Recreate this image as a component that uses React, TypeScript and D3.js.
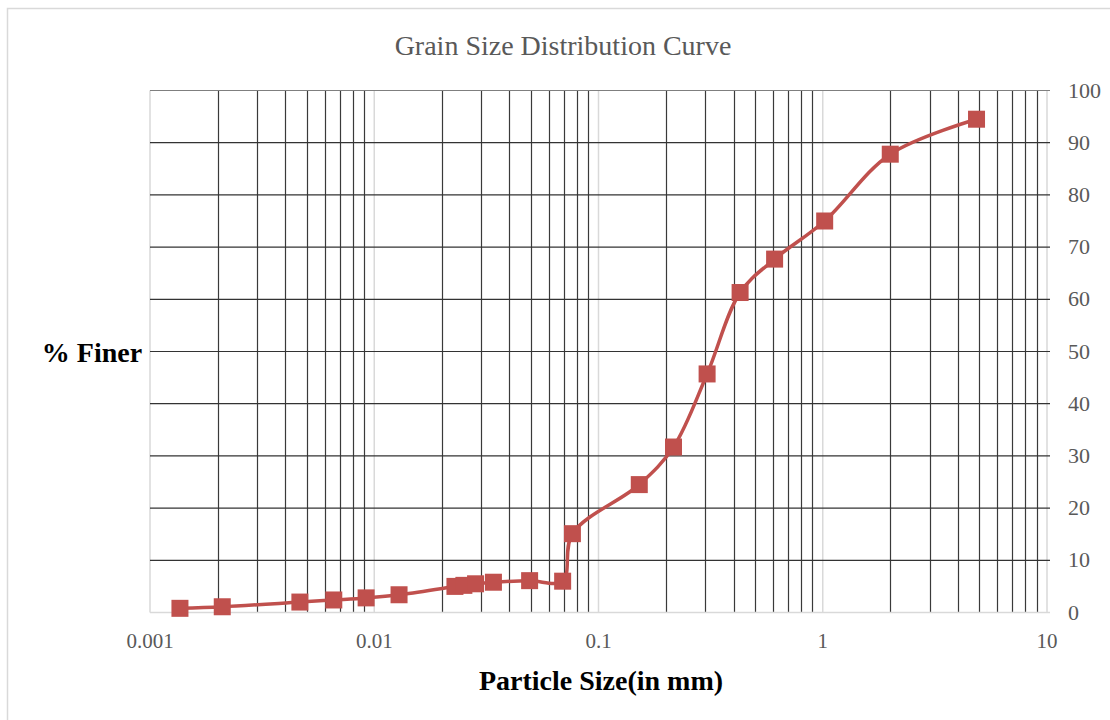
import React, { useEffect, useRef } from 'react';
import * as d3 from 'd3';

// sieve + hydrometer results
const sizes = [0.00136, 0.0021, 0.00466, 0.0066, 0.0092, 0.0129, 0.0229, 0.0251, 0.0283, 0.034, 0.0493, 0.0692, 0.0765, 0.152, 0.216, 0.305, 0.428, 0.61, 1.02, 2.0, 4.85];
const finer = [0.8, 1.1, 2.0, 2.4, 2.8, 3.4, 5.0, 5.2, 5.5, 5.8, 6.1, 6.0, 15.1, 24.5, 31.7, 45.7, 61.3, 67.7, 75.0, 87.8, 94.5];
const xTicks = [0.001, 0.01, 0.1, 1, 10];
const yTicks = [0, 10, 20, 30, 40, 50, 60, 70, 80, 90, 100];
const xTickLabels = ['0.001', '0.01', '0.1', '1', '10'];

const App = () => {
  const ref = useRef<SVGSVGElement>(null);

  useEffect(() => {
    const svg = d3.select(ref.current);
    svg.selectAll('*').remove();

    const x = d3.scaleLog().domain([0.001, 10]).range([150, 1047]);
    const y = d3.scaleLinear().domain([0, 100]).range([612.5, 90.5]);

    svg.append('rect').attr('width', 1110).attr('height', 720).attr('fill', '#fff');
    svg.append('rect')
      .attr('x', 7.5).attr('y', 8.5).attr('width', 1200).attr('height', 800)
      .attr('fill', 'none').attr('stroke', '#d9d9d9').attr('stroke-width', 1.5);

    const grid = svg.append('g');

    // minor vertical lines (2..9 in each decade)
    const minors: number[] = [];
    [0.001, 0.01, 0.1, 1].forEach((dec) => {
      for (let k = 2; k <= 9; k++) minors.push(dec * k);
    });
    grid.selectAll('line.minor')
      .data(minors)
      .enter().append('line')
      .attr('class', 'minor')
      .attr('x1', (d) => Math.round(x(d)) + 0.5)
      .attr('x2', (d) => Math.round(x(d)) + 0.5)
      .attr('y1', y(100)).attr('y2', y(0))
      .attr('stroke', '#3a3a3a').attr('stroke-width', 1.2);

    // decade lines are pale
    grid.selectAll('line.major')
      .data(xTicks)
      .enter().append('line')
      .attr('x1', (d) => x(d)).attr('x2', (d) => x(d))
      .attr('y1', y(100)).attr('y2', y(0))
      .attr('stroke', '#d9d9d9').attr('stroke-width', 1.5);

    grid.selectAll('line.h')
      .data(yTicks)
      .enter().append('line')
      .attr('x1', x(0.001)).attr('x2', x(10) + 3)
      .attr('y1', (d) => y(d)).attr('y2', (d) => y(d))
      .attr('stroke', (d) => (d === 0 ? '#d9d9d9' : d === 100 ? '#7f7f7f' : '#333'))
      .attr('stroke-width', (d) => (d === 0 ? 1.5 : 1.2));

    // tick labels
    svg.append('g').selectAll('text')
      .data(xTicks)
      .enter().append('text')
      .attr('x', (d) => x(d)).attr('y', 648)
      .attr('text-anchor', 'middle')
      .attr('font-family', 'Liberation Serif, serif').attr('font-size', 21)
      .attr('fill', '#595959')
      .text((d, i) => xTickLabels[i]);

    svg.append('g').selectAll('text')
      .data(yTicks)
      .enter().append('text')
      .attr('x', 1068).attr('y', (d) => y(d) + 7)
      .attr('font-family', 'Liberation Serif, serif').attr('font-size', 22)
      .attr('fill', '#595959')
      .text((d) => d);

    const pts = sizes.map((s, i) => [s, finer[i]] as [number, number]);
    const line = d3.line<[number, number]>()
      .x((d) => x(d[0]))
      .y((d) => y(d[1]))
      .curve(d3.curveCatmullRom.alpha(0.5));

    svg.append('path')
      .datum(pts)
      .attr('d', line)
      .attr('fill', 'none')
      .attr('stroke', '#c0504d').attr('stroke-width', 3.5);

    svg.append('g').selectAll('rect')
      .data(pts)
      .enter().append('rect')
      .attr('x', (d) => x(d[0]) - 8.5).attr('y', (d) => y(d[1]) - 8.5)
      .attr('width', 17).attr('height', 17)
      .attr('fill', '#c0504d');

    svg.append('text')
      .attr('x', 563).attr('y', 55)
      .attr('text-anchor', 'middle')
      .attr('font-family', 'Liberation Serif, serif').attr('font-size', 28)
      .attr('fill', '#595959')
      .text('Grain Size Distribution Curve');

    svg.append('text')
      .attr('x', 92).attr('y', 362)
      .attr('text-anchor', 'middle')
      .attr('font-family', 'Liberation Serif, serif').attr('font-size', 28)
      .attr('font-weight', 'bold').attr('fill', '#000')
      .text('% Finer');

    svg.append('text')
      .attr('x', 601).attr('y', 690)
      .attr('text-anchor', 'middle')
      .attr('font-family', 'Liberation Serif, serif').attr('font-size', 28)
      .attr('font-weight', 'bold').attr('fill', '#000')
      .text('Particle Size(in mm)');
  }, []);

  return (
    <svg ref={ref} width={1110} height={720}
      style={{ position: 'absolute', left: 0, top: 0 }} />
  );
};

export default App;
